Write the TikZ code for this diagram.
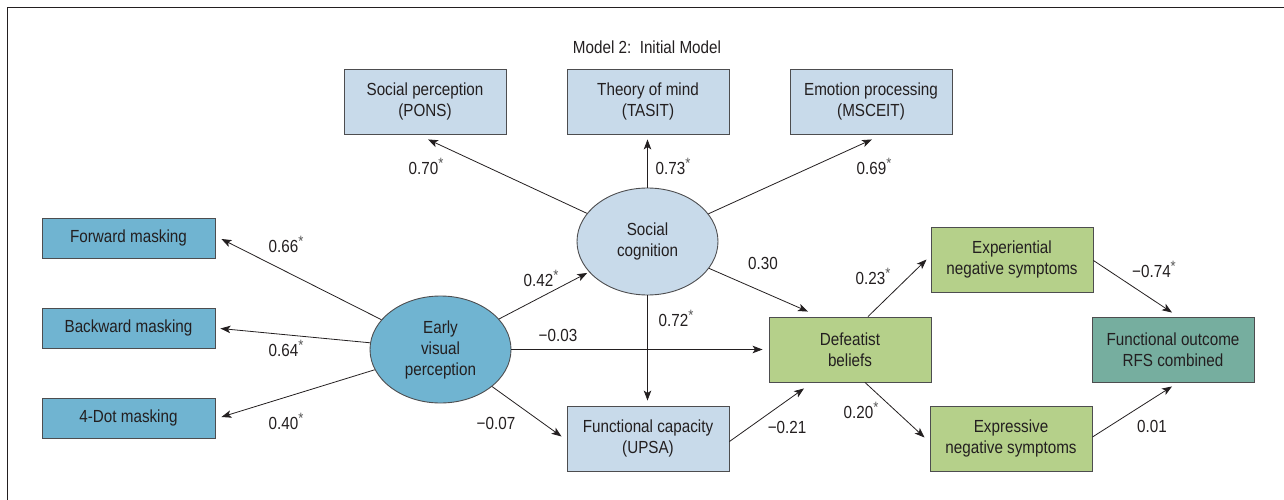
\documentclass[tikz,border=0pt]{standalone}
\usepackage{fontspec}
\setmainfont{Liberation Sans}[FakeStretch=0.87]
\usetikzlibrary{arrows.meta,calc,shapes.geometric}
\definecolor{txt}{HTML}{231F20}
\definecolor{lblue}{HTML}{C8DAEA}
\definecolor{mblue}{HTML}{70B4D1}
\definecolor{lgreen}{HTML}{B5D08A}
\definecolor{teal}{HTML}{76AE9F}
\definecolor{bord}{HTML}{4D4D4F}
\definecolor{star}{HTML}{555555}
\tikzset{
  every node/.style={font=\fontsize{17.5}{21}\selectfont, text=txt},
  bigbox/.style={draw=bord, line width=0.9pt, minimum width=162pt, minimum height=65pt, align=center, inner sep=0pt},
  maskbox/.style={draw=bord, line width=0.9pt, fill=mblue, minimum width=173pt, minimum height=40pt, inner sep=0pt},
  latent/.style={ellipse, draw=bord, line width=0.9pt, minimum width=141pt, minimum height=107pt, align=center, inner sep=0pt},
  arr/.style={draw=txt, line width=0.8pt, -{Stealth[length=10pt,width=7.5pt,inset=2.5pt]}},
  lbl/.style={inner sep=0pt, anchor=center},
}
\newcommand{\st}{\smash{\raisebox{0.55ex}{\fontsize{15}{15}\selectfont\color{star}*}}}
\begin{document}
\begin{tikzpicture}[x=1pt,y=-1pt]
\useasboundingbox (0,0) rectangle (1284,500);
% frame
\draw[draw=txt, line width=1.3pt] (7.5,500) -- (7.5,7.5) -- (1284,7.5);
% title
\node[lbl] (title) at (647,47) {Model 2:\ \ Initial Model};
% indicators of social cognition
\node[bigbox, fill=lblue] (sp) at (425,101.5) {Social perception\\(PONS)};
\node[bigbox, fill=lblue] (tom) at (648,101.5) {Theory of mind\\(TASIT)};
\node[bigbox, fill=lblue] (ep) at (871,101.5) {Emotion processing\\(MSCEIT)};
% latent variables
\node[latent, fill=lblue] (sc) at (647.5,241.5) {Social\\cognition};
\node[latent, fill=mblue] (evp) at (440.5,349.5) {Early\\visual\\perception};
% masking
\node[maskbox] (fm) at (128.5,238) {Forward masking};
\node[maskbox] (bm) at (128.5,328) {Backward masking};
\node[maskbox] (dm) at (128.5,418) {4-Dot masking};
% others
\node[bigbox, fill=lblue] (fc) at (648,438.5) {Functional capacity\\(UPSA)};
\node[bigbox, fill=lgreen] (def) at (850,349.5) {Defeatist\\beliefs};
\node[bigbox, fill=lgreen] (exp) at (1012,259.5) {Experiential\\negative symptoms};
\node[bigbox, fill=lgreen] (expr) at (1011,438.5) {Expressive\\negative symptoms};
\node[bigbox, fill=teal] (fo) at (1173,349.5) {Functional outcome\\RFS combined};
% arrows
\draw[arr] (sc) -- ($(sp.south)+(3,5)$);
\draw[arr] (sc) -- ($(tom.south)+(-0.5,5)$);
\draw[arr] (sc) -- ($(ep.south)+(1,5)$);
\draw[arr] (evp) -- ($(fm.east)+(6,1)$);
\draw[arr] (evp) -- ($(bm.east)+(5,0.5)$);
\draw[arr] (evp) -- ($(dm.east)+(6,-1)$);
\draw[arr, shorten >=2pt] (evp) -- (sc);
\draw[arr] (evp.east) -- ($(def.west)+(-6,0)$);
\draw[arr] (evp) -- ($(fc.west)+(-5,-2)$);
\draw[arr] (sc.south) -- ($(fc.north)+(-0.5,-5)$);
\draw[arr] (sc) -- ($(def.north)+(-42,-5)$);
\draw[arr] ($(fc.east)+(0,3)$) -- ($(def.south)+(-46,6)$);
\draw[arr] ($(def.north)+(18,0)$) -- ($(exp.west)+(-4,0)$);
\draw[arr] ($(def.south)+(15,0)$) -- ($(expr.west)+(-5,-1)$);
\draw[arr] ($(exp.east)+(0,1)$) -- ($(fo.north)+(-1,-4)$);
\draw[arr] ($(expr.east)+(0,-1.5)$) -- ($(fo.south)+(-1,4)$);
% labels
\node[lbl] (l1) at (426,168) {0.70\st};
\node[lbl] (l2) at (673,168) {0.73\st};
\node[lbl] (l3) at (874,168) {0.69\st};
\node[lbl] (l4) at (286,246) {0.66\st};
\node[lbl] (l5) at (286,350) {0.64\st};
\node[lbl] (l6) at (286,423) {0.40\st};
\node[lbl] (l7) at (541,280) {0.42\st};
\node[lbl] (l8) at (558,335) {−0.03};
\node[lbl] (l9) at (496,423) {−0.07};
\node[lbl] (l10) at (676,320) {0.72\st};
\node[lbl] (l11) at (763,263) {0.30};
\node[lbl] (l12) at (787,427) {−0.21};
\node[lbl] (l13) at (873,278) {0.23\st};
\node[lbl] (l14) at (861,412) {0.20\st};
\node[lbl] (l15) at (1154,271) {−0.74\st};
\node[lbl] (l16) at (1152,426) {0.01};
\end{tikzpicture}
\end{document}
